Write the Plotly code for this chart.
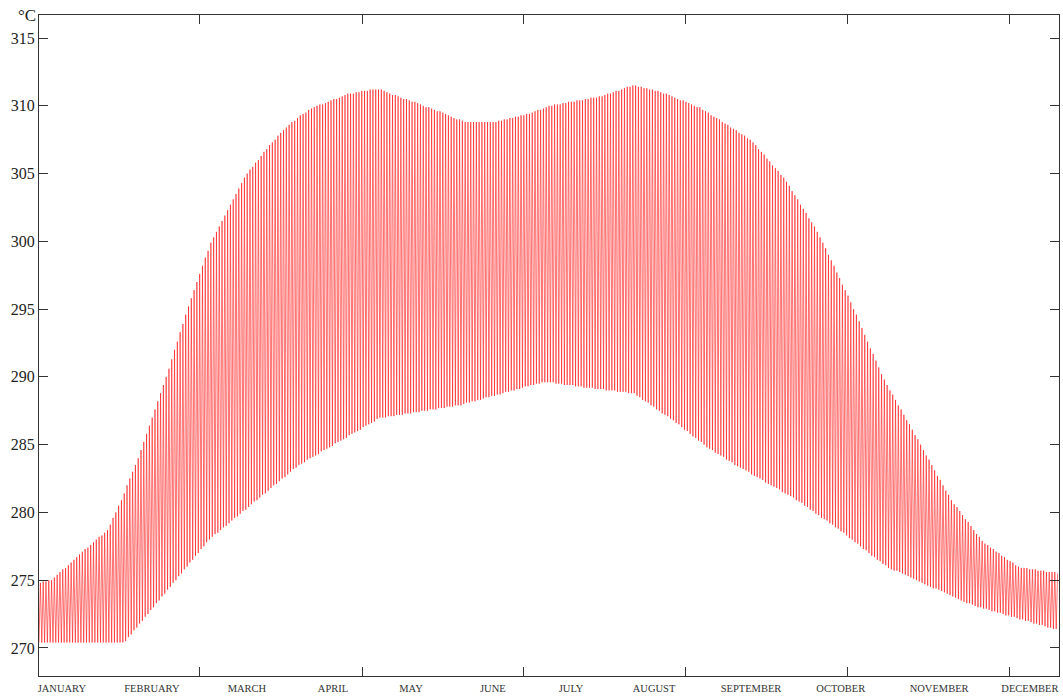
import plotly.graph_objects as go

# ---------------- data ----------------
months = ["JANUARY", "FEBRUARY", "MARCH", "APRIL", "MAY", "JUNE", "JULY",
          "AUGUST", "SEPTEMBER", "OCTOBER", "NOVEMBER", "DECEMBER"]
# month label positions along the day axis
month_label_day = [8.2, 40.4, 74.4, 105.2, 133.1, 162.4, 190.4, 220.1, 254.8, 286.9, 322.1, 354.6]
# x tick marks (days)
tick_days = [57.6, 115.6, 173.5, 231.5, 289.4, 347.4]
y_ticks = [268, 270, 275, 280, 285, 290, 295, 300, 305, 310, 315]
y_ticktext = ["", "270", "275", "280", "285", "290", "295", "300", "305", "310", "315"]

# daily maximum temperature (K), day 0..364
tmax = (
    [274.8, 274.9, 274.9, 275.0, 275.0]
    + [275.2, 275.4, 275.6, 275.8, 275.9, 276.1, 276.3]
    + [276.5, 276.7, 276.9, 277.1, 277.3, 277.4, 277.6, 277.8, 278.0, 278.2, 278.3, 278.5]
    + [278.7, 279.1, 279.6, 280.0, 280.5]
    + [280.9, 281.4, 282.0, 282.5]
    + [283.0, 283.5, 284.0]
    + [284.6, 285.2, 285.8, 286.4]
    + [287.0, 287.6, 288.2, 288.8, 289.4]
    + [290.0, 290.6, 291.3, 292.0, 292.6, 293.3, 293.9, 294.6]
    + [295.2, 295.8, 296.4, 297.0, 297.6, 298.2, 298.8, 299.3, 299.9]
    + [300.3, 300.7, 301.1, 301.5, 301.9, 302.3, 302.7, 303.1, 303.5, 303.9, 304.3, 304.7]
    + [305.0, 305.3, 305.5, 305.8, 306.0, 306.3, 306.6, 306.8, 307.1, 307.3, 307.5, 307.8, 308.0]
    + [308.2, 308.4, 308.6, 308.8, 308.9, 309.1]
    + [309.3, 309.4, 309.5, 309.7, 309.8, 309.9]
    + [310.0, 310.1, 310.1, 310.2, 310.3, 310.4, 310.5, 310.5, 310.6, 310.7, 310.8, 310.9]
    + [310.9, 310.9, 311.0, 311.0, 311.1, 311.1, 311.1, 311.2, 311.2, 311.2, 311.2]
    + [311.2, 311.1, 311.0, 310.9, 310.8, 310.8, 310.7, 310.6, 310.5, 310.5, 310.4, 310.3]
    + [310.3, 310.2, 310.1, 310.0, 309.9, 309.9, 309.8, 309.7, 309.6, 309.6, 309.5, 309.4]
    + [309.3, 309.2, 309.1, 309.0, 309.0, 308.9]
    + [308.8, 308.8, 308.8, 308.8, 308.8, 308.8, 308.8, 308.8, 308.8, 308.8, 308.8, 308.8]
    + [308.9, 308.9, 309.0, 309.0, 309.1, 309.1, 309.2, 309.2, 309.3, 309.3, 309.4, 309.4]
    + [309.5, 309.6, 309.7, 309.7, 309.8, 309.9]
    + [310.0, 310.0, 310.1, 310.1, 310.1, 310.2]
    + [310.2, 310.3, 310.3, 310.3, 310.4, 310.4, 310.4, 310.5, 310.5, 310.6, 310.6, 310.6]
    + [310.7, 310.7, 310.8, 310.9, 310.9, 311.0, 311.1, 311.1, 311.2, 311.3, 311.4, 311.4, 311.5]
    + [311.5, 311.4, 311.4, 311.3, 311.3, 311.2, 311.2, 311.1, 311.1, 311.0, 310.9]
    + [310.9, 310.8, 310.7, 310.6, 310.5, 310.4, 310.4, 310.3, 310.2, 310.1, 310.0, 309.9]
    + [309.9, 309.7, 309.6, 309.5, 309.3, 309.2, 309.1, 309.0, 308.8, 308.7, 308.6, 308.4,
       308.3, 308.2, 308.0, 307.9, 307.8, 307.6, 307.5]
    + [307.3, 307.1, 306.8, 306.6, 306.4, 306.1, 305.9, 305.6, 305.4, 305.2, 304.9, 304.7]
    + [304.4, 304.1, 303.7, 303.4, 303.1, 302.7, 302.4, 302.1, 301.7, 301.4, 301.1, 300.7]
    + [300.3, 299.9, 299.5, 299.0, 298.6, 298.2, 297.7, 297.3, 296.8, 296.4, 296.0, 295.5]
    + [295.0, 294.6, 294.1, 293.6, 293.1, 292.6, 292.1, 291.7, 291.2, 290.7, 290.2, 289.8]
    + [289.4, 289.0, 288.7, 288.3, 287.9, 287.6, 287.2, 286.8, 286.5, 286.1, 285.7, 285.4]
    + [285.0, 284.6, 284.2, 283.9, 283.5, 283.1, 282.7, 282.4, 282.0, 281.6, 281.3, 280.9]
    + [280.6, 280.4, 280.1, 279.8, 279.5, 279.3, 279.0, 278.7, 278.4, 278.2, 277.9]
    + [277.7, 277.6, 277.4, 277.3, 277.1, 277.0, 276.8, 276.7, 276.5, 276.4, 276.3, 276.1]
    + [276.0, 275.9, 275.9, 275.9, 275.8, 275.8, 275.8, 275.7, 275.7, 275.7, 275.6, 275.6,
       275.6, 275.6, 275.5]
)

# daily minimum temperature (K), day 0..364
tmin = (
    [270.4, 270.4, 270.4, 270.4, 270.4, 270.4, 270.4, 270.4, 270.4, 270.4, 270.4,
     270.4, 270.4, 270.4, 270.4, 270.4, 270.4, 270.4, 270.4, 270.4, 270.4,
     270.4, 270.4, 270.4, 270.4, 270.4, 270.4, 270.4, 270.4, 270.4, 270.4]
    + [270.5, 270.8, 271.0, 271.3, 271.5, 271.8, 272.0, 272.3, 272.5, 272.8, 273.0, 273.3,
       273.5, 273.8, 274.0, 274.3, 274.5, 274.8, 275.0, 275.3, 275.5, 275.8, 276.0, 276.3,
       276.5, 276.8, 277.0, 277.3, 277.5, 277.8]
    + [278.0, 278.2, 278.4, 278.5, 278.7, 278.9, 279.0, 279.2, 279.4, 279.6, 279.7, 279.9,
       280.1, 280.2, 280.4, 280.6, 280.8, 280.9, 281.1, 281.3, 281.4, 281.6, 281.8, 282.0,
       282.1, 282.3, 282.5, 282.6, 282.8, 283.0, 283.2, 283.3]
    + [283.5, 283.6, 283.7, 283.9, 284.0, 284.1, 284.2, 284.3, 284.5, 284.6, 284.7, 284.8,
       284.9, 285.1, 285.2, 285.3, 285.4, 285.5, 285.7, 285.8, 285.9, 286.0, 286.1, 286.3,
       286.4, 286.5, 286.6, 286.7, 286.9]
    + [287.0, 287.0, 287.0, 287.1, 287.1, 287.1, 287.2, 287.2, 287.2, 287.3, 287.3, 287.3,
       287.4, 287.4, 287.4, 287.5, 287.5, 287.5, 287.6, 287.6, 287.6, 287.7, 287.7, 287.7,
       287.8, 287.8, 287.8, 287.9, 287.9]
    + [287.9, 288.0, 288.1, 288.1, 288.2, 288.2, 288.3, 288.3, 288.4, 288.5, 288.5, 288.6,
       288.6, 288.7, 288.7, 288.8, 288.9, 288.9, 289.0, 289.0, 289.1, 289.1, 289.2, 289.3,
       289.3, 289.4, 289.4, 289.5, 289.5]
    + [289.6, 289.6, 289.6]
    + [289.6, 289.6, 289.5, 289.5, 289.5, 289.4, 289.4, 289.4, 289.4, 289.3, 289.3, 289.3,
       289.2, 289.2, 289.2, 289.2, 289.1, 289.1, 289.1, 289.1, 289.0, 289.0, 289.0, 289.0,
       288.9, 288.9, 288.9, 288.9, 288.8, 288.8]
    + [288.8, 288.6, 288.5, 288.3, 288.2, 288.1, 287.9, 287.8, 287.6, 287.5, 287.3, 287.2,
       287.1, 286.9]
    + [286.8, 286.6, 286.5, 286.3, 286.1, 286.0, 285.8, 285.6, 285.5, 285.3, 285.2, 285.0, 284.8]
    + [284.7, 284.6, 284.4, 284.3, 284.2, 284.1, 283.9, 283.8, 283.7, 283.5, 283.4]
    + [283.3, 283.2, 283.1, 283.0, 282.8, 282.7, 282.6, 282.5, 282.4, 282.2, 282.1, 282.0,
       281.9, 281.8, 281.7, 281.5, 281.4, 281.3, 281.2, 281.1, 280.9, 280.8]
    + [280.7, 280.5, 280.4, 280.2, 280.1, 279.9, 279.8, 279.6, 279.5, 279.4, 279.2, 279.1,
       278.9, 278.8]
    + [278.6, 278.5, 278.3, 278.1, 278.0, 277.8, 277.7, 277.5, 277.3, 277.2, 277.0, 276.8,
       276.7, 276.5, 276.4, 276.2, 276.1]
    + [275.9, 275.8, 275.7, 275.7, 275.6, 275.5, 275.4, 275.3, 275.2, 275.1, 275.0, 274.9,
       274.8, 274.7, 274.6, 274.5, 274.4, 274.4, 274.3, 274.2, 274.1, 274.0, 273.9, 273.8,
       273.7, 273.6, 273.5, 273.4, 273.3, 273.3, 273.2]
    + [273.1, 273.0, 273.0, 272.9, 272.9, 272.8, 272.7, 272.7, 272.6, 272.6, 272.5, 272.4,
       272.4, 272.3, 272.3, 272.2, 272.1, 272.1, 272.0, 272.0, 271.9, 271.8, 271.8, 271.7,
       271.7, 271.6, 271.5, 271.5, 271.4, 271.4]
)

assert len(tmax) == 365, len(tmax)
assert len(tmin) == 365, len(tmin)

# daily cycle: minimum then maximum each day
xs, ys = [], []
for d, (lo, hi) in enumerate(zip(tmin, tmax)):
    xs += [d, d + 0.5]
    ys += [lo, hi]

SERIF = "Liberation Serif"
AXC = "#333333"

fig = go.Figure()
fig.add_trace(go.Scatter(x=xs, y=ys, mode="lines",
                         line=dict(color="rgba(255,0,0,0.55)", width=1.0),
                         hoverinfo="skip", showlegend=False))
# invisible helper trace so the month-label axis is drawn
fig.add_trace(go.Scatter(x=[0, 365], y=[None, None], xaxis="x2", mode="lines",
                         showlegend=False, hoverinfo="skip"))

fig.update_layout(
    width=1063, height=697,
    margin=dict(l=39, r=4, t=15, b=21),
    plot_bgcolor="white", paper_bgcolor="white",
    showlegend=False,
    xaxis=dict(range=[0, 365], tickvals=tick_days, showticklabels=False,
               ticks="inside", ticklen=9, tickcolor=AXC, tickwidth=1,
               showline=True, linecolor=AXC, linewidth=1, mirror="ticks",
               showgrid=False, zeroline=False, automargin=False),
    xaxis2=dict(range=[0, 365], overlaying="x", side="bottom",
                tickvals=month_label_day, ticktext=months, ticks="",
                showline=False, showgrid=False, zeroline=False, automargin=False,
                ticklabelstandoff=4,
                tickfont=dict(family=SERIF, size=10.5, color=AXC)),
    yaxis=dict(range=[267.93, 316.7], tickvals=y_ticks, ticktext=y_ticktext,
               ticks="inside", ticklen=9, tickcolor=AXC, tickwidth=1,
               showline=True, linecolor=AXC, linewidth=1, mirror="ticks",
               showgrid=False, zeroline=False, automargin=False,
               tickfont=dict(family=SERIF, size=16, color="#222222")),
    annotations=[dict(text="°C", xref="paper", yref="paper", x=0, y=1,
                      xanchor="right", yanchor="middle", xshift=-1, showarrow=False,
                      font=dict(family=SERIF, size=17, color="#222222"))],
)

fig.write_html("out.html", config={"displayModeBar": False},
               post_script="document.body.style.margin='0';document.body.style.padding='0';")
